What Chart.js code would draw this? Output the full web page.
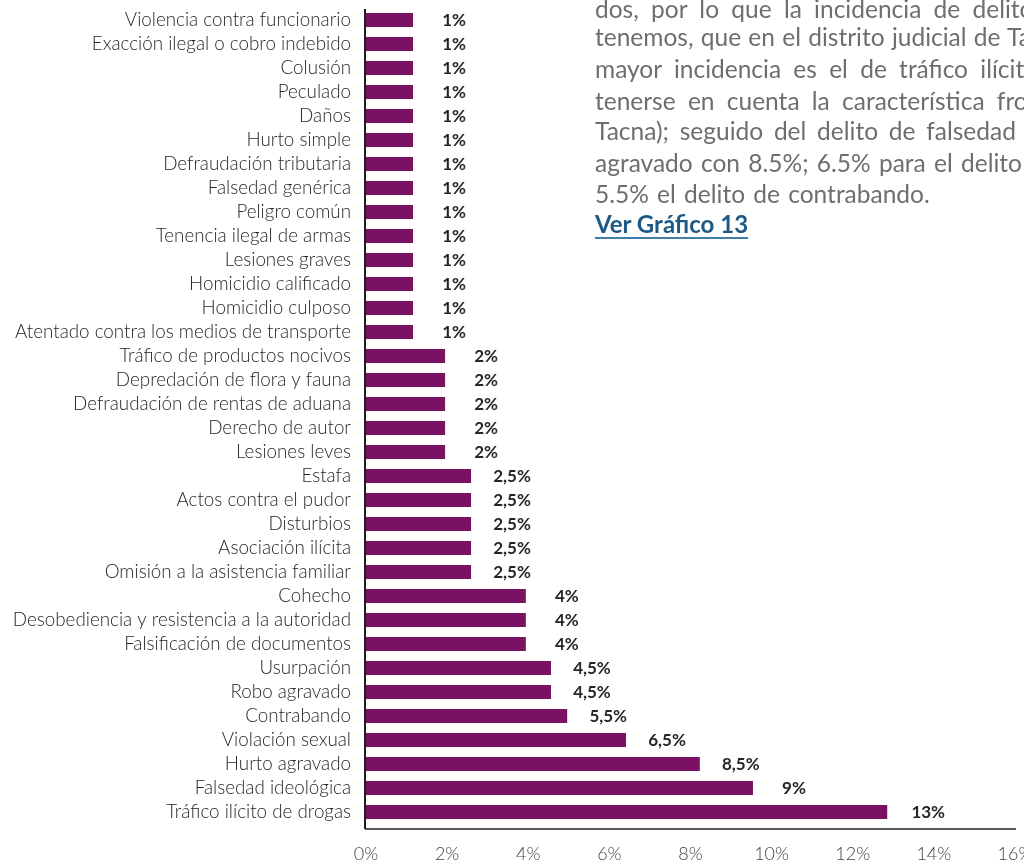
<!DOCTYPE html>
<html>
<head>
<meta charset="utf-8">
<script src="https://cdn.jsdelivr.net/npm/chart.js@4.4.0/dist/chart.umd.min.js"></script>
<style>
  html, body { margin: 0; padding: 0; background: #ffffff; }
  #wrap { position: relative; width: 1024px; height: 864px; overflow: hidden; }
  #c { position: absolute; left: 0; top: 0; }
  #txt { position: absolute; left: 595px; top: 0; width: 429px; height: 250px; overflow: hidden;
         font-family: Lato, "Open Sans", sans-serif; font-size: 24.5px; color: #6e6e71; }
  .ln { position: absolute; left: 0; white-space: nowrap; line-height: 30px; word-spacing: 6px; }
  .ln.link { font-weight: bold; color: #1c5a85; text-decoration: underline; text-decoration-color: #3f7eab;
             text-underline-offset: 4px; text-decoration-thickness: 2px; word-spacing: 0; font-size: 24px; }
</style>
</head>
<body>
<div id="wrap">
  <canvas id="c" width="1024" height="864"></canvas>
  <div id="txt">
    <div class="ln" style="top:-6px">dos, por lo que la incidencia de delitos por distrito</div>
    <div class="ln" style="top:22px;word-spacing:1px">tenemos, que en el distrito judicial de Tacna, el delito de</div>
    <div class="ln" style="top:54px">mayor incidencia es el de tráfico ilícito de drogas con</div>
    <div class="ln" style="top:86px">tenerse en cuenta la característica fronteriza de</div>
    <div class="ln" style="top:116px;word-spacing:4.5px">Tacna); seguido del delito de falsedad ideológica</div>
    <div class="ln" style="top:148px;word-spacing:2px">agravado con 8.5%; 6.5% para el delito de violación</div>
    <div class="ln" style="top:179px;word-spacing:2px">5.5% el delito de contrabando.</div>
    <div class="ln link" style="top:209px">Ver Gráfico 13</div>
  </div>
</div>
<script>
// ---- data ----
const categories = [
  "Violencia contra funcionario",
  "Exacción ilegal o cobro indebido",
  "Colusión",
  "Peculado",
  "Daños",
  "Hurto simple",
  "Defraudación tributaria",
  "Falsedad genérica",
  "Peligro común",
  "Tenencia ilegal de armas",
  "Lesiones graves",
  "Homicidio calificado",
  "Homicidio culposo",
  "Atentado contra los medios de transporte",
  "Tráfico de productos nocivos",
  "Depredación de flora y fauna",
  "Defraudación de rentas de aduana",
  "Derecho de autor",
  "Lesiones leves",
  "Estafa",
  "Actos contra el pudor",
  "Disturbios",
  "Asociación ilícita",
  "Omisión a la asistencia familiar",
  "Cohecho",
  "Desobediencia y resistencia a la autoridad",
  "Falsificación de documentos",
  "Usurpación",
  "Robo agravado",
  "Contrabando",
  "Violación sexual",
  "Hurto agravado",
  "Falsedad ideológica",
  "Tráfico ilícito de drogas"
];
const barValues = [
  1.16, 1.16, 1.16, 1.16, 1.16, 1.16, 1.16, 1.16, 1.16, 1.16, 1.16, 1.16, 1.16, 1.16,
  1.95, 1.95, 1.95, 1.95, 1.95,
  2.59, 2.59, 2.59, 2.59, 2.59,
  3.94, 3.94, 3.94,
  4.56, 4.56,
  4.96,
  6.41,
  8.23,
  9.54,
  12.85
];
const valueLabels = [
  "1%", "1%", "1%", "1%", "1%", "1%", "1%", "1%", "1%", "1%", "1%", "1%", "1%", "1%",
  "2%", "2%", "2%", "2%", "2%",
  "2,5%", "2,5%", "2,5%", "2,5%", "2,5%",
  "4%", "4%", "4%",
  "4,5%", "4,5%",
  "5,5%",
  "6,5%",
  "8,5%",
  "9%",
  "13%"
];
const xTicks = [0, 2, 4, 6, 8, 10, 12, 14, 16];

// ---- plugins ----
const valueLabelPlugin = {
  id: 'valueLabels',
  afterDatasetsDraw(chart) {
    const ctx = chart.ctx;
    const meta = chart.getDatasetMeta(0);
    ctx.save();
    ctx.font = 'bold 17px Lato, "Open Sans", sans-serif';
    ctx.fillStyle = '#262626';
    ctx.textAlign = 'center';
    ctx.textBaseline = 'middle';
    meta.data.forEach((bar, i) => {
      ctx.fillText(valueLabels[i], bar.x + 41, bar.y + 1);
    });
    ctx.restore();
  }
};
const axisPlugin = {
  id: 'axisLines',
  afterDraw(chart) {
    const { ctx, chartArea: a } = chart;
    const yb = a.bottom + 5;
    ctx.save();
    ctx.lineWidth = 2;
    ctx.strokeStyle = '#5a5a5a';
    ctx.beginPath();
    ctx.moveTo(a.left - 1, yb);
    ctx.lineTo(a.right + 1, yb);
    ctx.stroke();
    ctx.strokeStyle = '#1e1e1e';
    ctx.beginPath();
    ctx.moveTo(a.left - 1, a.top + 1);
    ctx.lineTo(a.left - 1, yb);
    ctx.stroke();
    ctx.restore();
  }
};

new Chart(document.getElementById('c'), {
  type: 'bar',
  data: {
    labels: categories,
    datasets: [{
      data: barValues,
      backgroundColor: '#7b1163',
      borderWidth: 0,
      categoryPercentage: 1,
      barPercentage: 0.58
    }]
  },
  options: {
    indexAxis: 'y',
    responsive: false,
    animation: false,
    devicePixelRatio: 1,
    layout: { padding: { top: 8, right: 9, bottom: 0, left: 0 } },
    plugins: { legend: { display: false }, tooltip: { enabled: false } },
    scales: {
      y: {
        grid: { display: false, drawTicks: false },
        border: { display: false },
        ticks: {
          padding: 15,
          color: '#262626',
          font: { family: 'Lato, "Open Sans", sans-serif', size: 18.8, weight: '300' },
          autoSkip: false
        },
        afterFit(scale) { scale.width = 366; scale.paddingTop = 0; scale.paddingBottom = 0; }
      },
      x: {
        min: 0,
        max: 16,
        grid: { display: false, drawTicks: false },
        border: { display: false },
        afterBuildTicks(scale) { scale.ticks = xTicks.map(v => ({ value: v })); },
        ticks: {
          padding: 19,
          color: '#444444',
          font: { family: 'Lato, "Open Sans", sans-serif', size: 18, weight: '300' },
          callback: (v) => v + '%',
          maxRotation: 0
        },
        afterFit(scale) { scale.height = 40; scale.paddingLeft = 0; scale.paddingRight = 0; }
      }
    }
  },
  plugins: [valueLabelPlugin, axisPlugin]
});
</script>
</body>
</html>
